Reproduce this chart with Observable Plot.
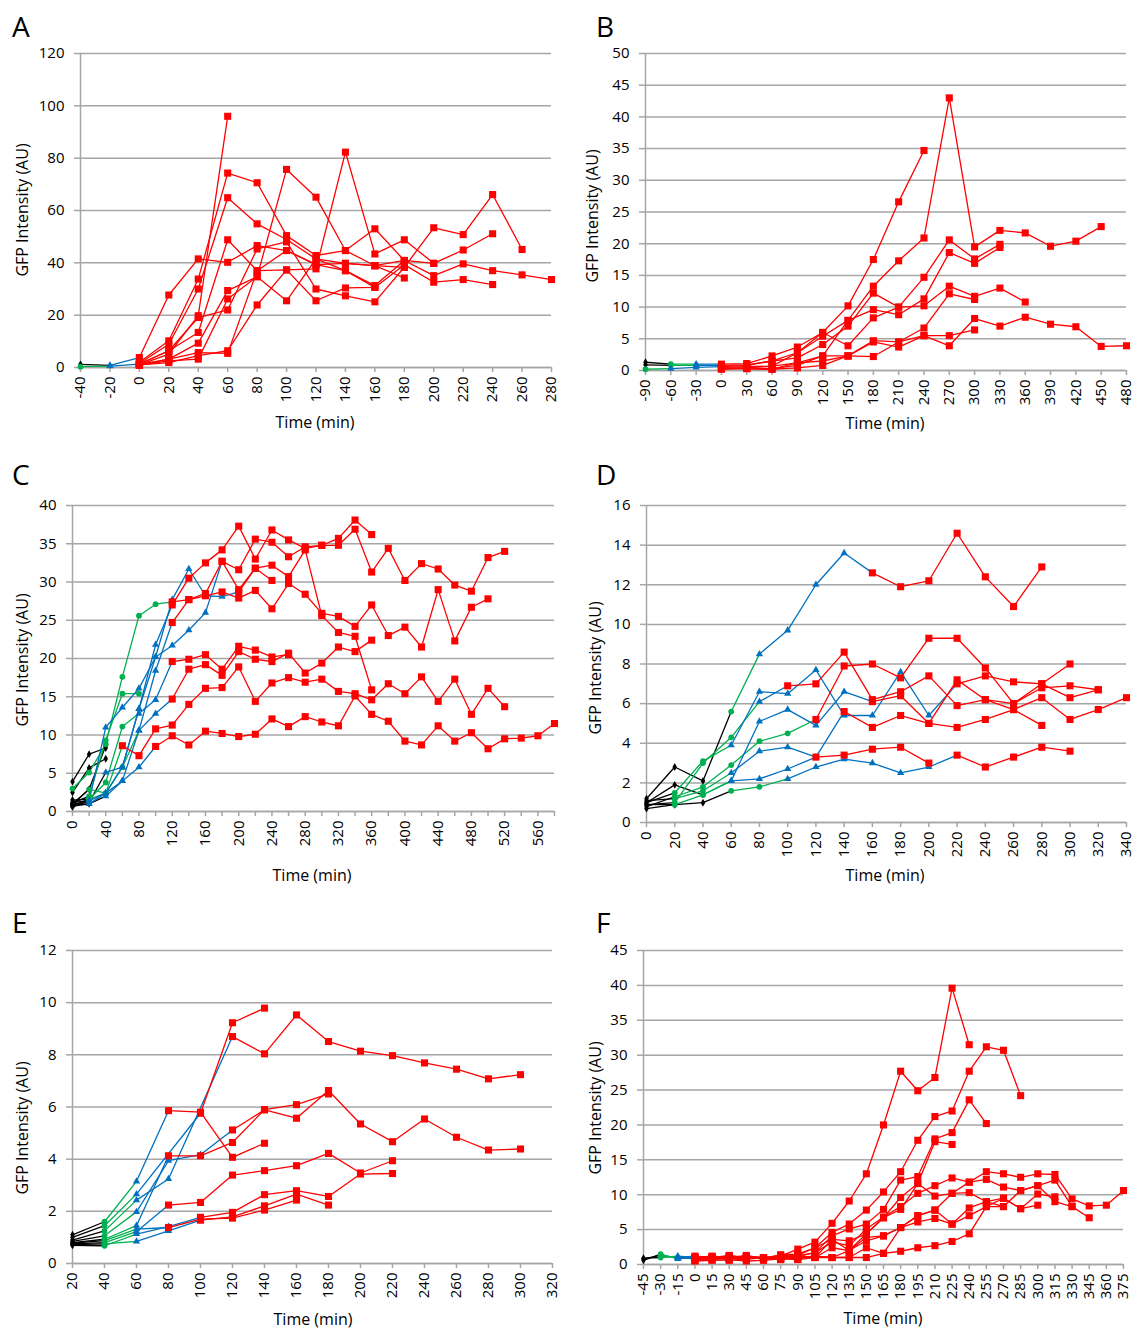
<!DOCTYPE html>
<html><head><meta charset="utf-8">
<script src="https://cdn.jsdelivr.net/npm/d3@7"></script>
<script src="https://cdn.jsdelivr.net/npm/@observablehq/plot@0.6"></script>
<style>
body{margin:0;background:#fff;font-family:"Open Sans",sans-serif;}
#page{position:relative;width:1134px;height:1330px;overflow:hidden;background:#fff;}
.panel{position:absolute;}
.letter{position:absolute;font-size:28px;line-height:1;color:#000;}
.ytitle{position:absolute;font-size:16px;white-space:nowrap;transform:translate(-50%,-50%) rotate(-90deg);}
.xtitle{position:absolute;font-size:16px;white-space:nowrap;transform:translate(-50%,-50%);}
</style></head><body><div id="page"></div>
<script>
// Each trace: t0 = first time (min), p = phase per point (k black, g green, b blue, r red), v = GFP values
const tracesA = [
  {t0:0,   p:"rrrr", v:[1.0,5.1,19.8,96]},
  {t0:0,   p:"rrrrrrrrrrrrr", v:[2.0,10.2,33.8,74.3,70.6,50.4,42.8,44.7,53.0,40.9,39.8,44.9,51.1]},
  {t0:0,   p:"rrrrrrrrrrrrrr", v:[1.5,8.9,30.0,64.9,54.9,48.9,41.5,39.8,38.9,38.3,53.4,50.8,66.1,45.1]},
  {t0:-40, p:"kbrrrrrrrrrrrrrrr", v:[1.2,0.8,3.8,27.7,41.5,40.2,46.6,44.7,39.3,37.0,31.3,40.9,35.1,39.6,37.0,35.4,33.6]},
  {t0:-40, p:"gbrrrrrrrrrrrrr", v:[0.3,0.5,1.3,6.4,13.4,48.8,37.0,37.3,25.5,30.4,30.6,39.3,32.6,33.6,31.7]},
  {t0:0,   p:"rrrrrrrrrr", v:[1.2,3.2,9.3,29.4,34.7,75.7,65.1,44.7,38.9,34.2]},
  {t0:0,   p:"rrrrrrrrrrr", v:[1.0,1.9,4.5,6.4,23.9,37.3,37.7,82.3,43.4,48.8,39.8]},
  {t0:0,   p:"rrrrrrrrrr", v:[1.3,6.4,19.1,22.0,45.3,48.0,30.0,27.4,25.1,38.3]},
  {t0:0,   p:"rrrrrrrrrr", v:[0.8,3.2,5.7,5.4,37.0,44.7,39.3,39.8,38.9,40.9]},
  {t0:0,   p:"rrrrrrrrr", v:[0.9,2.5,3.2,26.2,34.7,25.5,41.5,37.0,30.6]}
];
const tracesB = [
  {t0:-90, p:"kgbrrrrrrrrr", v:[1.3,1.0,1.0,1.0,1.1,2.3,3.7,6.0,10.2,17.5,26.6,34.7]},
  {t0:-90, p:"gbbrrrrrrrrrrrrrrrr", v:[0.2,0.3,0.5,0.6,0.8,1.5,2.8,5.4,7.9,13.3,17.3,20.9,43.0,19.5,22.1,21.7,19.6,20.4,22.7]},
  {t0:-90, p:"kgbrrrrrrrrrrrr", v:[0.9,0.8,0.8,0.8,0.9,1.5,2.0,4.1,7.0,12.2,10.0,14.7,20.6,17.6,19.9]},
  {t0:0,   p:"rrrrrrrrrrrr", v:[0.5,0.6,0.7,1.2,2.3,7.9,9.6,8.8,11.3,18.6,16.9,19.4]},
  {t0:0,   p:"rrrrrrrrrrrrr", v:[0.3,0.4,0.7,2.8,6.0,3.9,8.3,10.0,10.2,13.3,11.7,13.0,10.8]},
  {t0:0,   p:"rrrrrrrrrrr", v:[0.4,0.3,0.2,1.2,1.5,2.3,4.7,4.5,6.7,12.1,11.2]},
  {t0:0,   p:"rrrrrrrrrrrrrrrrr", v:[0.2,0.3,0.2,0.4,0.8,2.3,4.5,3.7,5.5,3.9,8.2,7.0,8.4,7.3,6.9,3.8,3.9]},
  {t0:0,   p:"rrrrrrrrrrr", v:[0.3,0.4,0.3,0.8,2.3,2.3,2.2,4.5,5.5,5.5,6.4]}
];
const tracesC = [
  {t0:0, p:"kkbbbbrrrrrrrrrrrrr", v:[1.0,1.2,5.1,5.8,13.4,21.8,27.0,30.5,32.5,34.2,37.3,33.0,36.8,35.5,34.4,34.8,35.7,38.1,36.2]},
  {t0:0, p:"ggggggrrrrrrrrrrrrrrrrrrrrr", v:[3.0,5.1,8.8,17.6,25.6,27.1,27.4,27.7,28.5,32.7,31.6,35.6,35.2,33.3,34.6,34.8,34.8,36.9,31.3,34.4,30.2,32.4,31.7,29.6,28.8,33.2,34.0]},
  {t0:0, p:"kbbbbbbbbbrrrrrrrrr", v:[0.6,1.4,11.0,13.6,16.1,20.2,27.7,31.7,28.2,28.1,28.7,31.8,32.2,30.7,34.2,25.6,23.4,22.9,15.9]},
  {t0:0, p:"kbbbbbrrrrrrrrrrrrrrrrrrrr", v:[0.8,1.0,2.4,4.0,10.6,18.4,24.7,27.7,28.2,28.7,27.9,28.9,26.5,29.8,28.4,25.9,25.5,24.2,27.0,23.0,24.1,21.5,29.0,22.3,26.7,27.8]},
  {t0:0, p:"kbbbbbbbbrrrr", v:[1.2,1.4,2.4,5.8,13.4,20.2,21.7,23.7,26.0,32.7,29.0,31.8,30.2]},
  {t0:0, p:"kgggbbrrrrrrrr", v:[1.5,1.6,3.8,11.1,12.8,14.6,19.6,19.9,20.5,18.6,21.6,21.1,20.2,20.5]},
  {t0:0, p:"kgggbbrrrrrrrrrrrrr", v:[0.9,2.9,2.4,5.8,10.6,12.8,14.7,18.6,19.2,17.8,20.9,19.9,19.6,20.7,18.1,19.4,21.5,20.9,22.4]},
  {t0:0, p:"kggrrrrrrrrrrrrrrrrrrrrrrrr", v:[0.8,1.6,2.4,8.6,7.3,10.8,11.3,14.0,16.1,16.2,18.9,14.4,16.8,17.5,16.9,17.3,15.7,15.4,14.6,16.7,15.4,17.6,14.4,17.3,12.7,16.1,13.7]},
  {t0:0, p:"kkbbbrrrrrrrrrrrrrrrrrrrrrrrrr", v:[0.7,1.0,2.0,4.0,5.8,8.5,9.9,8.7,10.5,10.2,9.8,10.1,12.1,11.1,12.4,11.7,11.2,15.1,12.7,11.8,9.2,8.7,11.2,9.2,10.3,8.2,9.5,9.6,9.9,11.5]},
  {t0:0, p:"kkk", v:[3.9,7.5,8.3]},
  {t0:0, p:"kkk", v:[2.5,5.7,6.9]},
  {t0:0, p:"kkk", v:[1.0,2.9,8.6]},
  {t0:0, p:"kgggg", v:[1.1,2.0,9.3,15.4,15.4]}
];
const tracesD = [
  {t0:0, p:"kkkgbbbbrrrrrrr", v:[1.2,2.8,2.1,5.6,8.5,9.7,12.0,13.6,12.6,11.9,12.2,14.6,12.4,10.9,12.9]},
  {t0:0, p:"kggbbbbbbbbrrrrrr", v:[1.0,1.5,3.1,3.9,6.6,6.5,7.7,5.4,5.4,7.6,5.4,7.0,7.4,7.1,7.0,6.3,6.7]},
  {t0:0, p:"kgggggrrrrrrrrrr", v:[0.8,1.3,1.8,2.9,4.1,4.5,5.2,7.9,8.0,7.3,9.3,9.3,7.8,6.0,7.0,8.0]},
  {t0:0, p:"kkkggbbbbbbrrrrr", v:[0.7,0.9,1.0,1.6,1.8,2.2,2.8,3.2,3.0,2.5,2.8,3.4,2.8,3.3,3.8,3.6]},
  {t0:0, p:"kggbbbrrrrr", v:[1.1,1.2,1.6,2.5,3.6,3.8,3.3,3.4,3.7,3.8,3.0]},
  {t0:0, p:"kgggbrrrrrrrrrrrr", v:[0.9,1.0,3.0,4.3,6.1,6.9,7.0,8.6,6.2,6.6,7.4,5.9,6.2,6.0,6.8,6.9,6.7]},
  {t0:0, p:"kkgbbbbbrrrrrrr", v:[1.0,1.9,1.4,2.1,5.1,5.7,4.9,6.6,6.1,6.4,5.0,7.2,6.2,5.7,4.9]},
  {t0:0, p:"kggbbbbrrrrrrrrrrr", v:[0.9,0.9,1.4,2.1,2.2,2.7,3.3,5.6,4.8,5.4,5.0,4.8,5.2,5.7,6.3,5.2,5.7,6.3]}
];
const tracesE = [
  {t0:20, p:"kgbrrrr", v:[1.1,1.6,3.15,5.86,5.8,4.07,4.61]},
  {t0:20, p:"kgbbrrr", v:[1.0,1.45,2.66,null,5.76,9.23,9.79]},
  {t0:20, p:"kgbbbrrrrrrrrrr", v:[0.9,1.25,2.43,3.24,null,8.7,8.04,9.53,8.51,8.14,7.97,7.69,7.45,7.08,7.24]},
  {t0:20, p:"kgbbbrrrrrrrrrr", v:[0.85,1.06,1.98,3.94,4.17,5.12,5.89,5.57,6.63,5.35,4.67,5.54,4.84,4.35,4.39]},
  {t0:20, p:"kgbrrrrrr", v:[0.8,0.93,1.45,4.13,4.13,4.64,5.9,6.09,6.5]},
  {t0:20, p:"kgbrrrrrrrr", v:[0.75,0.8,1.22,2.24,2.34,3.39,3.56,3.75,4.22,3.47,3.94]},
  {t0:20, p:"kgbbrrrrrrr", v:[0.7,0.68,1.13,1.41,1.77,1.96,2.64,2.79,2.57,3.43,3.45]},
  {t0:20, p:"kgbbrrrrr", v:[0.72,0.75,0.85,1.25,1.66,1.79,2.21,2.66,2.24]},
  {t0:20, p:"kgbrrrrr", v:[0.78,0.88,1.32,1.38,1.7,1.74,2.05,2.43]}
];
const tracesF = [
  {t0:-45, p:"kgbrrrrrrrrrrrrrrrrr", v:[0.8,1.3,1.0,1.2,1.0,1.3,1.0,1.0,1.2,2.2,3.2,5.9,9.1,13.0,20.0,27.7,24.9,26.8,39.6,31.5]},
  {t0:-45, p:"kgbrrrrrrrrrrrrrrrrrrrr", v:[0.6,1.5,0.8,1.0,1.2,1.0,1.3,0.8,1.4,1.5,2.4,4.6,5.8,7.8,10.4,13.3,17.8,21.2,22.0,27.7,31.2,30.7,24.2]},
  {t0:-30, p:"gbrrrrrrrrrrrrrrrrrr", v:[1.2,1.0,0.8,1.0,0.9,1.2,1.0,1.3,1.2,1.7,4.1,5.1,5.8,7.9,12.1,12.6,18.0,18.9,23.6,20.2]},
  {t0:-15, p:"brrrrrrrrrrrrrrrr", v:[1.1,0.9,1.1,0.8,1.2,0.9,1.0,1.3,2.4,3.6,3.4,4.4,6.7,9.6,11.6,17.6,17.2]},
  {t0:-45, p:"kgbrrrrrrrrrrrrrrrrrrrrrrrrrr", v:[0.9,1.0,1.2,1.0,0.8,1.1,0.9,1.0,0.8,1.2,1.7,3.2,2.7,5.1,6.8,8.3,10.2,11.3,12.4,11.8,13.3,13.0,12.5,13.0,12.9,9.4,8.4,8.5,10.6]},
  {t0:0, p:"rrrrrrrrrrrrrrrrrrrrrrrr", v:[1.0,0.9,1.2,1.0,0.9,1.1,1.3,1.0,3.6,2.0,4.4,6.7,7.9,11.6,9.8,10.2,11.8,12.2,11.1,10.6,11.3,12.1,8.3,6.7]},
  {t0:0, p:"rrrrrrrrrrrrrrrrrrrrrr", v:[0.8,1.0,0.9,0.8,1.0,0.9,1.1,1.0,2.4,2.0,3.9,4.1,5.3,7.0,7.8,10.2,10.3,9.0,9.5,8.0,10.1,9.7]},
  {t0:0, p:"rrrrrrrrrrrrrrrrrrrrrrr", v:[0.7,0.8,0.9,1.0,0.8,0.7,1.0,1.2,1.0,1.0,2.4,1.6,5.3,6.1,6.6,5.8,7.0,8.3,8.3,10.6,11.3,9.0,8.3]},
  {t0:0, p:"rrrrrrrrrrrrrrrrrrrrr", v:[0.5,0.6,0.7,0.5,0.6,0.8,0.7,1.0,1.0,1.0,1.0,1.6,1.9,2.4,2.7,3.3,4.4,8.3,9.5,8.0,8.5]},
  {t0:0, p:"rrrrrrrrrrrrrrrrrrr", v:[0.6,0.7,0.6,0.8,0.9,1.0,0.8,1.2,1.0,2.0,3.4,4.1,5.3,7.0,7.8,5.8,8.1,9.0,8.3]}
];

// axis tick values
const xTicksA = d3.range(-40, 281, 20);
const xTicksB = d3.range(-90, 481, 30);
const xTicksC = d3.range(0, 581, 20);
const xTicksD = d3.range(0, 341, 20);
const xTicksE = d3.range(20, 321, 20);
const xTicksF = d3.range(-45, 376, 15);
const yTicksA = d3.range(0, 121, 20);
const yTicksB = d3.range(0, 51, 5);
const yTicksC = d3.range(0, 41, 5);
const yTicksD = d3.range(0, 17, 2);
const yTicksE = d3.range(0, 13, 2);
const yTicksF = d3.range(0, 46, 5);

const COLOR = {k:"#000000", g:"#00b050", b:"#0070c0", r:"#ff0000"};
const SYM = {k:"diamond", g:"circle", b:"triangle", r:"square"};
const RAD = {k:2.4, g:2.9, b:2.7, r:4.0};
const PH = ["k","g","b","r"];
const GRID = "#a6a6a6";

function build(traces, step) {
  const pts = [], segs = [];
  traces.forEach((tr, i) => {
    const P = [];
    tr.v.forEach((v, j) => { if (v != null) P.push({id:i, t: tr.t0 + j*step, v, ph: tr.p[j]}); });
    pts.push(...P);
    let run = 0;
    for (let s = 0; s < P.length - 1; ) {
      let e = s;
      while (e + 1 < P.length - 1 && P[e+1].ph === P[s].ph) e++;
      const z = i + "_" + (run++);
      for (let k = s; k <= e + 1; k++) segs.push({t:P[k].t, v:P[k].v, z, lc:P[s].ph});
      s = e + 1;
    }
  });
  return {pts, segs};
}

const panels = [
  {L:"A", left:0, top:0, traces:tracesA, step:20, xt:xTicksA, yt:yTicksA, fmt:d=>String(d), m:[53,16,73,80],
   letter:[12,12], xtitle:[315,422], ytitle:[22,210]},
  {L:"B", left:567, top:0, traces:tracesB, step:30, xt:xTicksB, yt:yTicksB, fmt:d=>String(d), m:[53,8,70,78],
   letter:[596,12], xtitle:[885,423], ytitle:[592,216]},
  {L:"C", left:0, top:450, traces:tracesC, step:20, xt:xTicksC, yt:yTicksC, fmt:d=>(d%40===0 && d<=560) ? String(d) : "", m:[55,13,79,72],
   letter:[12,460], xtitle:[312,875], ytitle:[22,660]},
  {L:"D", left:567, top:450, traces:tracesD, step:20, xt:xTicksD, yt:yTicksD, fmt:d=>String(d), m:[55,8,68,79],
   letter:[596,460], xtitle:[885,875], ytitle:[595,668]},
  {L:"E", left:0, top:890, traces:tracesE, step:20, xt:xTicksE, yt:yTicksE, fmt:d=>String(d), m:[60,15,67,72],
   letter:[12,908], xtitle:[313,1319], ytitle:[22,1128]},
  {L:"F", left:567, top:890, traces:tracesF, step:15, xt:xTicksF, yt:yTicksF, fmt:d=>String(d), m:[60,11,66,76],
   letter:[596,908], xtitle:[883,1318], ytitle:[595,1108]}
];

const page = document.getElementById("page");
for (const P of panels) {
  const {pts, segs} = build(P.traces, P.step);
  const xd = [P.xt[0], P.xt[P.xt.length-1]];
  const yd = [0, P.yt[P.yt.length-1]];
  const chart = Plot.plot({
    width: 567, height: 440,
    marginTop: P.m[0], marginRight: P.m[1], marginBottom: P.m[2], marginLeft: P.m[3],
    style: {fontFamily: '"Open Sans", sans-serif', fontSize: "15px", background: "transparent", overflow: "visible", color: "#000"},
    x: {domain: xd},
    y: {domain: yd},
    marks: [
      Plot.gridY(P.yt, {stroke: GRID, strokeOpacity: 1, strokeWidth: 1.5}),
      Plot.ruleX([xd[0]], {stroke: GRID, strokeWidth: 1.5}),
      Plot.ruleY([0], {stroke: GRID, strokeWidth: 1.5}),
      Plot.axisY(P.yt, {label: null, tickSize: 6, tickPadding: 10, stroke: GRID, strokeWidth: 1.5, tickFormat: d => String(d)}),
      Plot.axisX(P.xt, {label: null, tickSize: 5, tickPadding: 4, tickRotate: -90, stroke: GRID, strokeWidth: 1.5, tickFormat: P.fmt}),
      ...PH.map(ph => Plot.line(segs.filter(d => d.lc === ph), {x: "t", y: "v", z: "z", stroke: COLOR[ph], strokeWidth: 1.3})),
      ...PH.map(ph => Plot.dot(pts.filter(d => d.ph === ph), {x: "t", y: "v", symbol: SYM[ph], r: RAD[ph], fill: COLOR[ph], stroke: "none"}))
    ]
  });
  const wrap = document.createElement("div");
  wrap.className = "panel";
  wrap.style.left = P.left + "px";
  wrap.style.top = P.top + "px";
  wrap.appendChild(chart);
  page.appendChild(wrap);

  const let_ = document.createElement("div");
  let_.className = "letter"; let_.textContent = P.L;
  let_.style.left = P.letter[0] + "px"; let_.style.top = P.letter[1] + "px";
  page.appendChild(let_);

  const xt = document.createElement("div");
  xt.className = "xtitle"; xt.textContent = "Time (min)";
  xt.style.left = P.xtitle[0] + "px"; xt.style.top = P.xtitle[1] + "px";
  page.appendChild(xt);

  const yt = document.createElement("div");
  yt.className = "ytitle"; yt.textContent = "GFP Intensity (AU)";
  yt.style.left = P.ytitle[0] + "px"; yt.style.top = P.ytitle[1] + "px";
  page.appendChild(yt);
}
</script>
</body></html>
